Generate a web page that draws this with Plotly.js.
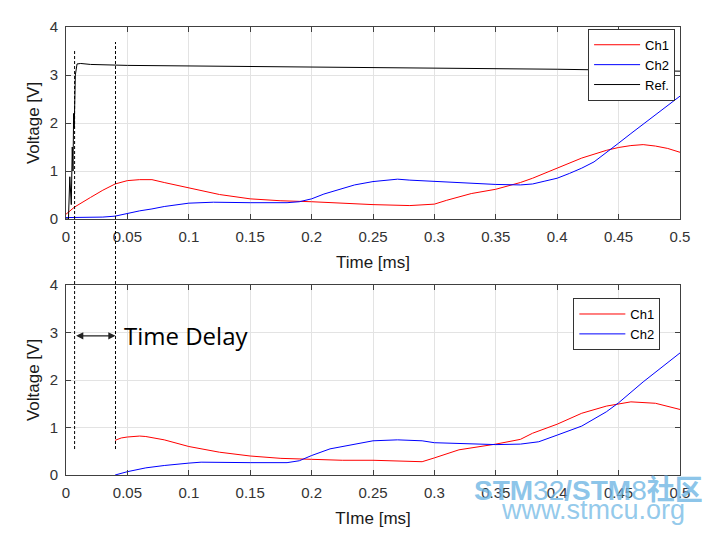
<!DOCTYPE html>
<html>
<head>
<meta charset="utf-8">
<script src="https://cdn.plot.ly/plotly-3.0.1.min.js"></script>
<style>html,body{margin:0;padding:0;background:#fff}#chart{width:708px;height:535px}</style>
</head>
<body>
<div id="chart"></div>
<script>
// ---- Top panel (raw measurement) ----
const tTopCh1 = [0, 0.007, 0.02, 0.03, 0.04, 0.05, 0.06, 0.07, 0.08, 0.1, 0.125, 0.15, 0.175, 0.2, 0.22, 0.25, 0.28, 0.3, 0.31, 0.32, 0.33, 0.35, 0.37, 0.38, 0.39, 0.4, 0.42, 0.44, 0.45, 0.46, 0.47, 0.48, 0.49, 0.5];
const topCh1  = [0.1, 0.25, 0.45, 0.6, 0.73, 0.8, 0.82, 0.82, 0.76, 0.65, 0.51, 0.42, 0.38, 0.36, 0.33, 0.3, 0.28, 0.31, 0.39, 0.46, 0.53, 0.62, 0.76, 0.85, 0.95, 1.06, 1.27, 1.43, 1.49, 1.53, 1.55, 1.52, 1.47, 1.39];
const tTopCh2 = [0, 0.01, 0.03, 0.04, 0.05, 0.06, 0.07, 0.08, 0.1, 0.12, 0.15, 0.18, 0.19, 0.2, 0.21, 0.22, 0.235, 0.25, 0.27, 0.28, 0.3, 0.33, 0.35, 0.37, 0.38, 0.39, 0.4, 0.41, 0.42, 0.43, 0.44, 0.45, 0.46, 0.47, 0.48, 0.49, 0.5];
const topCh2  = [0.03, 0.03, 0.04, 0.06, 0.12, 0.17, 0.21, 0.26, 0.33, 0.35, 0.34, 0.34, 0.36, 0.42, 0.52, 0.6, 0.71, 0.78, 0.83, 0.81, 0.78, 0.74, 0.72, 0.71, 0.73, 0.79, 0.85, 0.95, 1.06, 1.19, 1.38, 1.58, 1.78, 1.98, 2.17, 2.38, 2.56];
const tRef    = [0, 0.002, 0.0031, 0.0039, 0.0043, 0.0051, 0.0057, 0.0062, 0.0067, 0.0076, 0.009, 0.012, 0.02, 0.05, 0.1, 0.2, 0.3, 0.4, 0.45, 0.5];
const refV    = [0, 0, 0.88, 0.5, 0.3, 1.5, 1.0, 2.2, 1.9, 3.0, 3.23, 3.24, 3.22, 3.2, 3.19, 3.17, 3.15, 3.12, 3.1, 3.08];

// ---- Bottom panel (delay-compensated) ----
const tBotCh1 = [0.04, 0.045, 0.05, 0.06, 0.065, 0.08, 0.1, 0.125, 0.15, 0.175, 0.2, 0.225, 0.25, 0.28, 0.29, 0.3, 0.32, 0.35, 0.37, 0.38, 0.4, 0.42, 0.44, 0.46, 0.47, 0.48, 0.5];
const botCh1  = [0.73, 0.78, 0.8, 0.82, 0.81, 0.74, 0.6, 0.48, 0.4, 0.35, 0.33, 0.31, 0.31, 0.28, 0.28, 0.36, 0.53, 0.65, 0.75, 0.88, 1.07, 1.3, 1.45, 1.54, 1.53, 1.51, 1.38];
const tBotCh2 = [0.04, 0.05, 0.065, 0.08, 0.1, 0.11, 0.15, 0.18, 0.19, 0.2, 0.215, 0.24, 0.25, 0.27, 0.29, 0.3, 0.32, 0.35, 0.37, 0.385, 0.4, 0.42, 0.44, 0.45, 0.47, 0.5];
const botCh2  = [0, 0.07, 0.15, 0.2, 0.25, 0.27, 0.26, 0.26, 0.3, 0.41, 0.55, 0.67, 0.72, 0.74, 0.72, 0.68, 0.66, 0.64, 0.65, 0.7, 0.84, 1.03, 1.33, 1.52, 1.96, 2.57];

// ---- Delay markers / labels ----
const delayStart = 0.007;
const delayEnd = 0.0403;
const delayArrowV = 2.93;
const delayLabel = "Time Delay";
const xTickVals = [0, 0.05, 0.1, 0.15, 0.2, 0.25, 0.3, 0.35, 0.4, 0.45, 0.5];
const xTickText = ["0", "0.05", "0.1", "0.15", "0.2", "0.25", "0.3", "0.35", "0.4", "0.45", "0.5"];
const yTickVals = [0, 1, 2, 3, 4];
const seriesNames = ["Ch1", "Ch2", "Ref."];

const RED = "#ff0000", BLUE = "#0000ff", BLACK = "#000000";
const traces = [
  {x: tTopCh1, y: topCh1, name: seriesNames[0], type: "scatter", mode: "lines", line: {color: RED, width: 1}, xaxis: "x", yaxis: "y", legend: "legend"},
  {x: tTopCh2, y: topCh2, name: seriesNames[1], type: "scatter", mode: "lines", line: {color: BLUE, width: 1}, xaxis: "x", yaxis: "y", legend: "legend"},
  {x: tRef, y: refV, name: seriesNames[2], type: "scatter", mode: "lines", line: {color: BLACK, width: 1}, xaxis: "x", yaxis: "y", legend: "legend"},
  {x: tBotCh1, y: botCh1, name: seriesNames[0], type: "scatter", mode: "lines", line: {color: RED, width: 1}, xaxis: "x2", yaxis: "y2", legend: "legend2"},
  {x: tBotCh2, y: botCh2, name: seriesNames[1], type: "scatter", mode: "lines", line: {color: BLUE, width: 1}, xaxis: "x2", yaxis: "y2", legend: "legend2"}
];

const axisFont = {family: "Liberation Sans, Arial, sans-serif", size: 15, color: "#333333"};
const titleFont = {family: "Liberation Sans, Arial, sans-serif", size: 17, color: "#1a1a1a"};
function xAx(anchor, title) {
  return {anchor: anchor, domain: [0, 1], range: [0, 0.5], tickvals: xTickVals, ticktext: xTickText,
    ticks: "inside", ticklen: 5, tickcolor: "#404040", mirror: "ticks", showline: true, linecolor: "#404040", linewidth: 1,
    showgrid: true, gridcolor: "#e3e3e3", gridwidth: 1, zeroline: false, tickfont: axisFont, ticklabelstandoff: 4,
    title: {text: title, font: titleFont, standoff: 12}, fixedrange: true};
}
function yAx(anchor, domain) {
  return {anchor: anchor, domain: domain, range: [0, 4], tickvals: yTickVals,
    ticks: "inside", ticklen: 5, tickcolor: "#404040", mirror: "ticks", showline: true, linecolor: "#404040", linewidth: 1,
    showgrid: true, gridcolor: "#e3e3e3", gridwidth: 1, zeroline: false, tickfont: axisFont, ticklabelstandoff: 4,
    title: {text: "Voltage [V]", font: titleFont, standoff: 5}, fixedrange: true};
}

const legendBase = {xref: "paper", yref: "paper", xanchor: "right", yanchor: "top", bgcolor: "#ffffff",
  bordercolor: "#333333", borderwidth: 1, font: {family: "Liberation Sans, Arial, sans-serif", size: 13, color: "#000"},
  itemwidth: 46, tracegroupgap: 0};

const layout = {
  width: 708, height: 535,
  margin: {l: 66, r: 28, t: 27, b: 60},
  paper_bgcolor: "#ffffff", plot_bgcolor: "#ffffff",
  showlegend: true,
  xaxis: xAx("y", "Time [ms]"),
  yaxis: yAx("x", [0.5714, 1]),
  xaxis2: xAx("y2", "TIme [ms]"),
  yaxis2: yAx("x2", [0, 0.4241]),
  legend: Object.assign({}, legendBase, {x: 0.992, y: 0.996}),
  legend2: Object.assign({}, legendBase, {x: 0.968, y: 0.395}),
  shapes: [
    {type: "line", xref: "x", yref: "paper", x0: delayStart, x1: delayStart, y0: 0.058, y1: 0.9487, line: {color: "#000", width: 1, dash: "3px,2px"}},
    {type: "line", xref: "x", yref: "paper", x0: delayEnd, x1: delayEnd, y0: 0.058, y1: 0.9665, line: {color: "#000", width: 1, dash: "3px,2px"}}
  ],
  annotations: [
    {xref: "x2", yref: "y2", x: delayEnd, y: delayArrowV, axref: "x2", ayref: "y2", ax: delayStart, ay: delayArrowV,
     text: "", showarrow: true, arrowhead: 2, startarrowhead: 2, arrowside: "end+start", arrowsize: 1.2, arrowwidth: 1.2, arrowcolor: "#222"},
    {xref: "x2", yref: "y2", x: 0.046, y: delayArrowV, xanchor: "left", yanchor: "middle", text: delayLabel, showarrow: false,
     font: {family: "Open Sans, Noto Sans, sans-serif", size: 24, color: "#000"}},
    {xref: "paper", yref: "paper", x: 0.661, y: -0.0335, xanchor: "left", yanchor: "middle", showarrow: false,
     text: "<b>STM</b>32<b>/STM</b>8<b>社区</b>",
     font: {family: "Liberation Sans, Noto Sans CJK SC, sans-serif", size: 28, color: "rgba(110,182,228,0.8)"}},
    {xref: "paper", yref: "paper", x: 0.705, y: -0.078, xanchor: "left", yanchor: "middle", showarrow: false,
     text: "www.stmcu.org",
     font: {family: "Liberation Sans, Arial, sans-serif", size: 27, color: "rgba(120,188,230,0.8)"}}
  ]
};

Plotly.newPlot("chart", traces, layout, {staticPlot: true, displayModeBar: false});
</script>
</body>
</html>
